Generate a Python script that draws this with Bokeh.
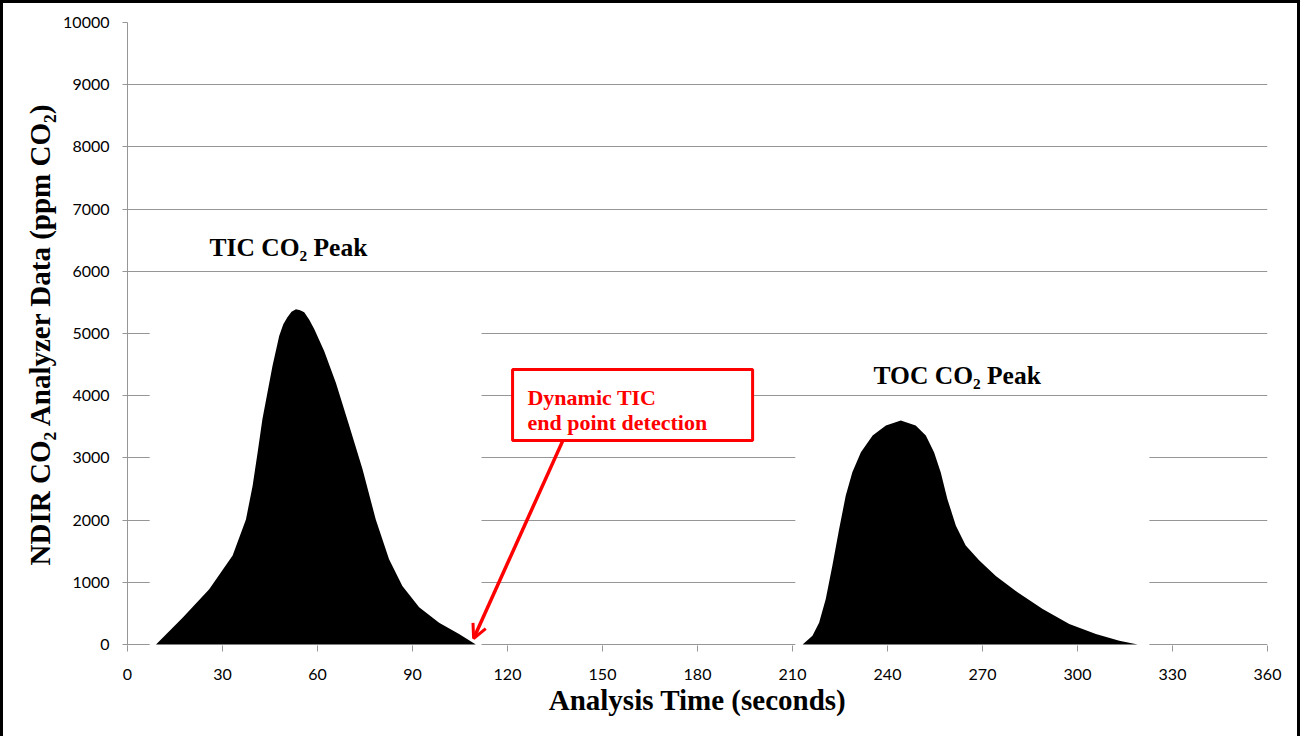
from bokeh.plotting import figure
from bokeh.models import FixedTicker, Label, Arrow, OpenHead, BoxAnnotation, Range1d
from bokeh.embed import file_html
from bokeh.resources import INLINE

# ---- data ----
tic_time = [9.0, 17.4, 25.8, 33.2, 37.4, 39.5, 41.1, 42.6, 44.2, 45.8, 47.9, 49.2, 50.5,
            51.8, 53.2, 54.5, 55.8, 57.4, 59.0, 62.1, 65.8, 70.0, 74.2, 78.4, 82.6, 86.8,
            92.1, 98.4, 104.7, 110.0]
tic_ppm = [0, 430, 890, 1430, 2010, 2550, 3090, 3620, 4050, 4480, 4960, 5150, 5260,
           5350, 5390, 5375, 5340, 5220, 5070, 4720, 4210, 3520, 2820, 2010, 1370, 940,
           600, 350, 170, 0]

toc_time = [213.2, 216.3, 218.4, 220.5, 222.6, 224.7, 226.8, 228.9, 231.6, 235.3, 239.5,
            244.2, 248.9, 252.1, 254.7, 256.8, 258.9, 261.6, 264.7, 269.0, 274.2, 280.5,
            289.0, 297.4, 305.8, 313.2, 319.0]
toc_ppm = [0, 140, 350, 730, 1270, 1850, 2390, 2770, 3090, 3360, 3520,
           3600, 3520, 3360, 3090, 2770, 2340, 1910, 1590, 1350, 1100, 860,
           570, 330, 170, 60, 0]

x_ticks = [0, 30, 60, 90, 120, 150, 180, 210, 240, 270, 300, 330, 360]
y_ticks = [0, 1000, 2000, 3000, 4000, 5000, 6000, 7000, 8000, 9000, 10000]

x_title = "Analysis Time (seconds)"
y_title = "NDIR CO\u2082 Analyzer Data (ppm CO\u2082)"
tic_label = "TIC CO\u2082 Peak"
toc_label = "TOC CO\u2082 Peak"
callout_lines = ["Dynamic TIC", "end point detection"]

GRID = "#969696"
SERIF = "Liberation Serif"
SANS = "Lato"
Y0 = -16

p = figure(width=1300, height=736,
           x_range=Range1d(0, 360), y_range=Range1d(Y0, 10000),
           output_backend="svg", toolbar_location=None,
           min_border_left=124, min_border_right=36,
           min_border_top=19, min_border_bottom=94)
p.styles = {"border-top": "3px solid black", "border-left": "3px solid black",
            "border-right": "3px solid black"}
p.outline_line_color = None
p.background_fill_color = "white"
p.border_fill_color = "white"

# grid
p.xgrid.grid_line_color = None
p.ygrid.ticker = FixedTicker(ticks=y_ticks)
p.ygrid.grid_line_color = GRID
p.ygrid.grid_line_width = 1

# axes
p.xaxis.ticker = FixedTicker(ticks=x_ticks)
p.yaxis.ticker = FixedTicker(ticks=y_ticks)
for ax in (p.xaxis[0], p.yaxis[0]):
    ax.major_tick_line_color = GRID
    ax.minor_tick_line_color = None
    ax.major_tick_in = 0
    ax.major_label_text_font = SANS
    ax.major_label_text_font_size = "16px"
    ax.major_label_text_color = "#000000"
    ax.axis_label_text_font = SERIF
    ax.axis_label_text_font_style = "bold"
    ax.axis_label_text_font_size = "29px"
    ax.axis_label_text_color = "#000000"
p.xaxis.axis_line_color = None
p.xaxis.major_tick_out = 6
p.xaxis.major_label_standoff = 17
p.xaxis.axis_label = x_title
p.xaxis.axis_label_standoff = 1
p.yaxis.axis_line_color = GRID
p.yaxis.major_tick_out = 5
p.yaxis.major_label_standoff = 13
p.yaxis.axis_label = y_title
p.yaxis.axis_label_standoff = 4

# white backgrounds of the pasted peak images
masks_left = [min(tic_time) - 2.0, min(toc_time) - 2.3]
masks_right = [max(tic_time) + 1.8, max(toc_time) + 3.7]
masks_top = [max(tic_ppm) + 450, max(toc_ppm) + 300]
masks_bottom = [Y0, Y0]
p.quad(left=masks_left, right=masks_right, top=masks_top, bottom=masks_bottom,
       fill_color="white", line_color=None)

# peaks
p.varea(x=tic_time, y1=[0] * len(tic_time), y2=tic_ppm, fill_color="black")
p.varea(x=toc_time, y1=[0] * len(toc_time), y2=toc_ppm, fill_color="black")

# peak labels
p.add_layout(Label(x=25.9, y=6383, text=tic_label, text_font=SERIF,
                   text_font_style="bold", text_font_size="25.5px",
                   text_color="black", text_baseline="alphabetic"))
p.add_layout(Label(x=235.6, y=4325, text=toc_label, text_font=SERIF,
                   text_font_style="bold", text_font_size="25.5px",
                   text_color="black", text_baseline="alphabetic"))

# callout box, arrow, text
p.add_layout(BoxAnnotation(left=121.6, right=197.4, top=4421, bottom=3280,
                           fill_color="white", fill_alpha=1.0,
                           line_color="#FF0000", line_alpha=1.0, line_width=3))
p.add_layout(Arrow(end=OpenHead(size=14, line_color="#FF0000", line_width=3),
                   x_start=137.4, y_start=3270, x_end=109.3, y_end=96,
                   line_color="#FF0000", line_width=3.5))
for i, txt in enumerate(callout_lines):
    p.add_layout(Label(x=126.3, y=3971 - i * 402, text=txt, text_font=SERIF,
                       text_font_style="bold", text_font_size="22px",
                       text_color="#FF0000", text_baseline="alphabetic"))

open("out.html", "w").write(file_html(p, INLINE))
